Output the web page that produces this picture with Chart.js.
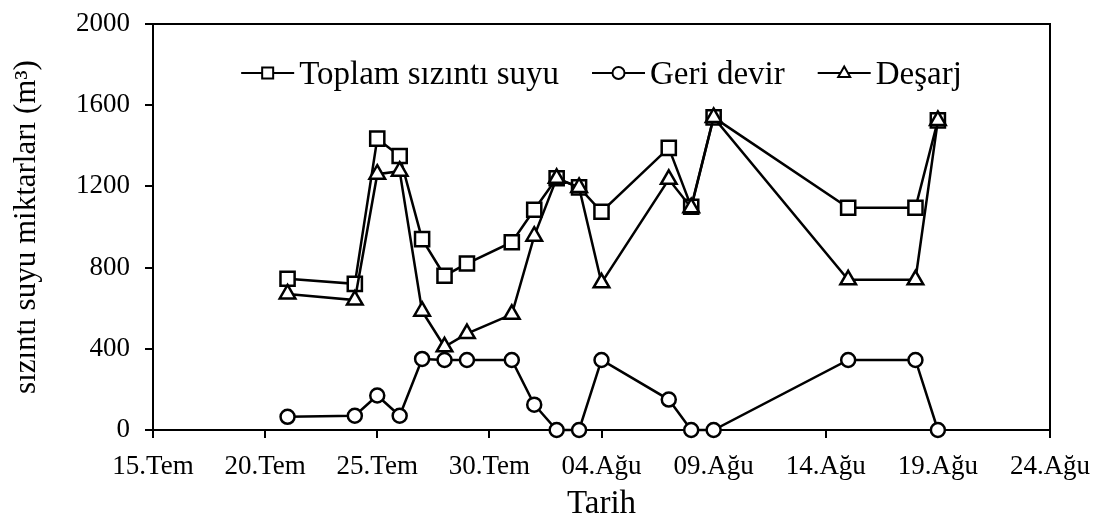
<!DOCTYPE html>
<html>
<head>
<meta charset="utf-8">
<script src="https://cdn.jsdelivr.net/npm/chart.js@4/dist/chart.umd.min.js"></script>
<style>
  html, body { margin: 0; padding: 0; background: #fff; }
  #c { display: block; }
</style>
</head>
<body>
<canvas id="c" width="1101" height="531"></canvas>
<script>
// ---- data ----
const dates = ['21.07','24.07','25.07','26.07','27.07','28.07','29.07','31.07','01.08','02.08','03.08','04.08','07.08','08.08','09.08','15.08','18.08','19.08'];
const toplam    = [745, 720, 1435, 1350, 940, 760, 820, 925, 1085, 1240, 1195, 1075, 1390, 1100, 1540, 1095, 1095, 1525];
const geriDevir = [ 65,  70,  170,   70, 350, 345, 345, 345,  125,    0,    0,  345,  150,    0,    0,  345,  345,    0];
const desarj    = [670, 640, 1260, 1275, 585, 410, 475, 570,  955, 1240, 1195,  725, 1235, 1095, 1540,  740,  740, 1525];
const seriesNames = ['Toplam sızıntı suyu', 'Geri devir', 'Deşarj'];
const xTickLabels = ['15.Tem','20.Tem','25.Tem','30.Tem','04.Ağu','09.Ağu','14.Ağu','19.Ağu','24.Ağu'];
const yTicks = [0, 400, 800, 1200, 1600, 2000];
const xTitle = 'Tarih';
const yTitle = 'sızıntı suyu miktarları (m³)';

// day offset from 15 July (first x tick)
function dayIndex(s) {
  const [d, m] = s.split('.').map(Number);
  return Math.round((Date.UTC(2000, m - 1, d) - Date.UTC(2000, 6, 15)) / 86400000);
}
const xs = dates.map(dayIndex);
const toPoints = arr => arr.map((v, i) => ({ x: xs[i], y: v }));

const FONT = '"Liberation Serif", "Times New Roman", Times, serif';
Chart.defaults.font.family = FONT;
Chart.defaults.color = '#000';

function drawMarker(ctx, style, x, y, s) {
  ctx.beginPath();
  if (style === 'rect') {
    ctx.rect(x - s / 2, y - s / 2, s, s);
  } else if (style === 'circle') {
    ctx.arc(x, y, s / 2, 0, Math.PI * 2);
  } else {
    const r = s / 2;
    ctx.moveTo(x, y - r * 1.1);
    ctx.lineTo(x + r, y + r * 0.65);
    ctx.lineTo(x - r, y + r * 0.65);
    ctx.closePath();
  }
  ctx.fill();
  ctx.stroke();
}

const framePlugin = {
  id: 'frame',
  beforeDatasetsDraw(chart) {
    const { ctx, chartArea: a } = chart;
    ctx.save();
    ctx.strokeStyle = '#000';
    ctx.lineWidth = 2;
    ctx.beginPath();
    ctx.moveTo(a.left, a.top);
    ctx.lineTo(a.right, a.top);
    ctx.lineTo(a.right, a.bottom);
    ctx.stroke();
    ctx.restore();
  }
};

const legendPlugin = {
  id: 'lineLegend',
  afterDraw(chart) {
    const { ctx, chartArea: a } = chart;
    const ds = chart.data.datasets;
    ctx.save();
    ctx.font = '33px ' + FONT;
    const symW = 53, gap = 5, sep = 33;
    const widths = ds.map(d => ctx.measureText(d.label).width);
    const total = widths.reduce((t, w) => t + symW + gap + w, 0) + sep * (ds.length - 1);
    let x = (a.left + a.right) / 2 - total / 2;
    const yLine = 73, yText = 84;
    ds.forEach((d, i) => {
      ctx.strokeStyle = '#000';
      ctx.lineWidth = 2;
      ctx.beginPath();
      ctx.moveTo(x, yLine);
      ctx.lineTo(x + symW, yLine);
      ctx.stroke();
      ctx.fillStyle = '#fff';
      ctx.lineWidth = 2;
      drawMarker(ctx, d.pointStyle, x + symW / 2, yLine, d.pointStyle === 'rect' ? 11 : 12);
      ctx.fillStyle = '#000';
      ctx.textBaseline = 'alphabetic';
      ctx.textAlign = 'left';
      ctx.fillText(d.label, x + symW + gap, yText);
      x += symW + gap + widths[i] + sep;
    });
    ctx.restore();
  }
};

const common = {
  borderColor: '#000',
  borderWidth: 2.5,
  pointBackgroundColor: '#fff',
  pointBorderColor: '#000',
  pointBorderWidth: 2.5,
  tension: 0,
  clip: false,
  fill: false
};

new Chart(document.getElementById('c'), {
  type: 'line',
  data: {
    datasets: [
      Object.assign({}, common, { label: seriesNames[0], data: toPoints(toplam),    pointStyle: 'rect',     pointRadius: 10, order: 2 }),
      Object.assign({}, common, { label: seriesNames[1], data: toPoints(geriDevir), pointStyle: 'circle',   pointRadius: 7,  order: 1 }),
      Object.assign({}, common, { label: seriesNames[2], data: toPoints(desarj),    pointStyle: 'triangle', pointRadius: 9,  order: 0 })
    ]
  },
  options: {
    responsive: false,
    animation: false,
    devicePixelRatio: 1,
    layout: { padding: { left: 4, top: 24, right: 51, bottom: 3 } },
    plugins: { legend: { display: false }, tooltip: { enabled: false } },
    scales: {
      x: {
        type: 'linear',
        min: 0, max: 40,
        afterFit(scale) { scale.height = 98; scale.paddingLeft = 0; scale.paddingRight = 0; },
        afterBuildTicks(scale) { scale.ticks = xTickLabels.map((_, i) => ({ value: i * 5 })); },
        ticks: {
          font: { size: 27 },
          color: '#000',
          padding: 13,
          maxRotation: 0,
          autoSkip: false,
          callback: (v) => xTickLabels[Math.round(v / 5)]
        },
        grid: { drawOnChartArea: false, drawTicks: true, tickLength: 8, color: '#000', lineWidth: 2 },
        border: { display: true, color: '#000', width: 2 },
        title: { display: true, text: xTitle, font: { size: 33 }, color: '#000', padding: { top: 4, bottom: 4 } }
      },
      y: {
        min: 0, max: 2000,
        afterFit(scale) { scale.width = 149; scale.paddingTop = 0; scale.paddingBottom = 0; },
        afterBuildTicks(scale) { scale.ticks = yTicks.map(v => ({ value: v })); },
        ticks: { font: { size: 27 }, color: '#000', padding: 15, callback: (v) => String(v) },
        grid: { drawOnChartArea: false, drawTicks: true, tickLength: 8, color: '#000', lineWidth: 2 },
        border: { display: true, color: '#000', width: 2 },
        title: { display: true, text: yTitle, font: { size: 31 }, color: '#000', padding: { top: 4, bottom: 4 } }
      }
    }
  },
  plugins: [framePlugin, legendPlugin]
});
</script>
</body>
</html>
